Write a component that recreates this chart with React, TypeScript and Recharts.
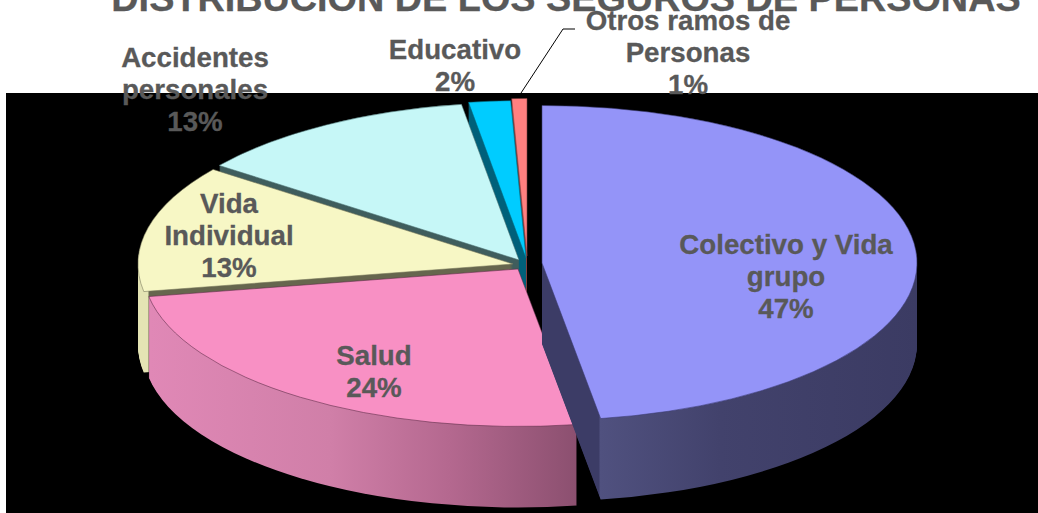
import React from 'react';
import { PieChart, Pie, Cell } from 'recharts';

const categories = ['Colectivo y Vida grupo', 'Salud', 'Vida Individual', 'Accidentes personales', 'Educativo', 'Otros ramos de Personas'];
const values = [47.5, 24.7, 13.05, 12.3, 1.8, 0.65];
const percentLabels = ['47%', '24%', '13%', '13%', '2%', '1%'];
const labelLines = [
  ['Colectivo y Vida', 'grupo'],
  ['Salud'],
  ['Vida', 'Individual'],
  ['Accidentes', 'personales'],
  ['Educativo'],
  ['Otros ramos de', 'Personas'],
];

const WIDTH = 1038;
const HEIGHT = 513;
const RX = 375;
const SQUASH = 157.5 / 375; // the tilt of the 3D pie
const DEPTH = 81;

const topColors = ['#9494F8', '#F890C4', '#F7F7C5', '#C6F7F7', '#00CCFF', '#FF8080'];
const topStrokes = ['#3a3a70', '#5a2a45', '#77775a', '#4a7070', '#006a80', '#803f3f'];

// real pixel position of each exploded slice's apex
const centers = [
  { x: 542, y: 263 },
  { x: 518, y: 269 },
  { x: 513, y: 264 },
  { x: 519, y: 260 },
  { x: 526, y: 258 },
  { x: 527, y: 256 },
];
// draw from the back to the front
const drawOrder = [5, 4, 3, 2, 1, 0];
const layers = Array.from({ length: DEPTH }, (_, i) => DEPTH - i);

const labelPos = [
  { x: 786, y: 254 },
  { x: 374, y: 365 },
  { x: 229, y: 213 },
  { x: 195, y: 67 },
  { x: 455, y: 59 },
  { x: 688, y: 30 },
];

const sideStops: [number, string][][] = [
  [[0, '#3C3C66'], [599, '#3C3C66'], [600, '#50517F'], [720, '#42426C'], [917, '#3B3B63']],
  [[150, '#E088B6'], [330, '#D07FA8'], [450, '#B4688F'], [575, '#8C5070']],
  [[139, '#E4E4B4'], [148, '#E4E4B4'], [149, '#66664E'], [1038, '#66664E']],
  [[0, '#3F5D5D'], [1038, '#3F5D5D']],
  [[0, '#00607A'], [1038, '#00607A']],
  [[0, '#803F3F'], [1038, '#803F3F']],
];

const data = categories.map((name, i) => ({ name, value: values[i] }));

const slicePie = (slice: number, dy: number, isTop: boolean) => (
  <Pie
    key={`${slice}-${dy}`}
    data={data}
    dataKey="value"
    cx={centers[slice].x}
    cy={(centers[slice].y + dy) / SQUASH}
    outerRadius={RX}
    startAngle={90}
    endAngle={-270}
    isAnimationActive={false}
    label={false}
    labelLine={false}
    stroke="none"
  >
    {data.map((_, i) => (
      <Cell
        key={i}
        fill={i !== slice ? 'none' : isTop ? topColors[i] : `url(#side${i})`}
        stroke={i === slice && isTop ? topStrokes[i] : 'none'}
        strokeWidth={i === slice && isTop ? 0.8 : 0}
      />
    ))}
  </Pie>
);

export default function App() {
  return (
    <div style={{ position: 'absolute', left: 0, top: 0, width: WIDTH, height: HEIGHT, overflow: 'hidden', background: '#fff' }}>
      <div style={{ position: 'absolute', left: 6, top: 93, width: WIDTH - 6, height: HEIGHT - 93, background: '#000' }} />
      <div style={{ position: 'absolute', left: 0, top: 0, width: WIDTH, height: HEIGHT / SQUASH, transform: `scaleY(${SQUASH})`, transformOrigin: 'top left' }}>
        <PieChart width={WIDTH} height={HEIGHT / SQUASH} margin={{ top: 0, right: 0, bottom: 0, left: 0 }}>
          <defs>
            {sideStops.map((stops, i) => {
              const x1 = stops[0][0];
              const x2 = stops[stops.length - 1][0];
              return (
                <linearGradient key={i} id={`side${i}`} gradientUnits="userSpaceOnUse" x1={x1} y1={0} x2={x2} y2={0}>
                  {stops.map(([x, c], j) => (
                    <stop key={j} offset={(x - x1) / (x2 - x1)} stopColor={c} />
                  ))}
                </linearGradient>
              );
            })}
          </defs>
          {drawOrder.flatMap((slice) => [
            ...layers.map((dy) => slicePie(slice, dy, false)),
            slicePie(slice, 0, true),
          ])}
        </PieChart>
      </div>
      <svg width={WIDTH} height={HEIGHT} style={{ position: 'absolute', left: 0, top: 0 }} fontFamily="'Liberation Sans', Arial, sans-serif" fontWeight="bold" fill="#595959" stroke="#595959" strokeWidth={0.3} textAnchor="middle">
        <text x={566} y={11} fontSize={37.8}>DISTRIBUCIÓN  DE LOS SEGUROS DE PERSONAS</text>
        <polyline points="575,29 563,29 521,93" fill="none" stroke="#000" strokeWidth={1} />
        {labelLines.map((lines, i) => (
          <text key={i} x={labelPos[i].x} y={labelPos[i].y} fontSize={27.7}>
            {[...lines, percentLabels[i]].map((t, j) => (
              <tspan key={j} x={labelPos[i].x} dy={j === 0 ? 0 : 32}>{t}</tspan>
            ))}
          </text>
        ))}
      </svg>
    </div>
  );
}
